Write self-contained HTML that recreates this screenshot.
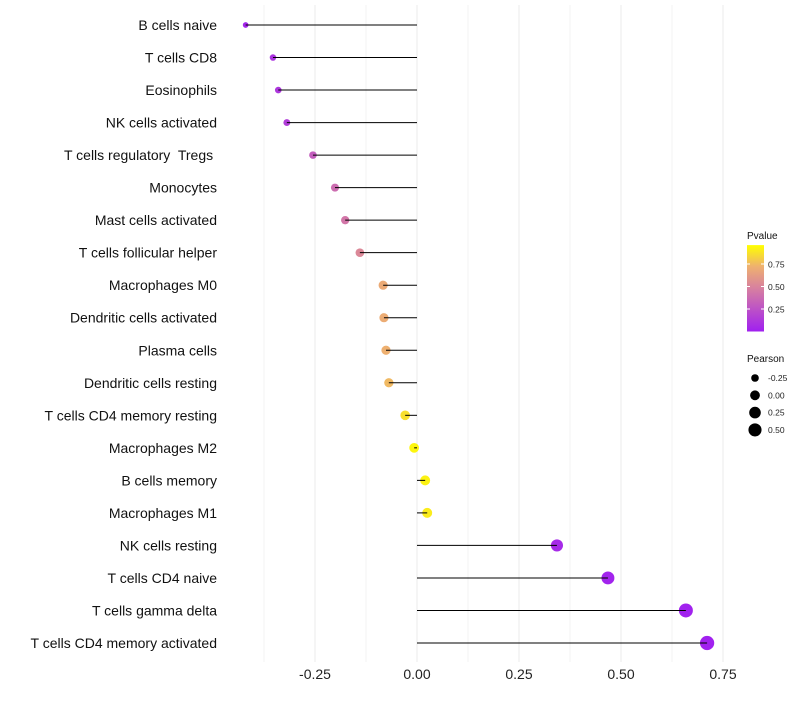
<!DOCTYPE html>
<html><head><meta charset="utf-8"><style>
body{margin:0;background:#fff;font-family:"Liberation Sans",sans-serif}
text{white-space:pre}
</style></head><body>
<svg id="c" width="800" height="700" xmlns="http://www.w3.org/2000/svg"></svg>
<script>
const categories=["B cells naive","T cells CD8","Eosinophils","NK cells activated","T cells regulatory  Tregs ","Monocytes","Mast cells activated","T cells follicular helper","Macrophages M0","Dendritic cells activated","Plasma cells","Dendritic cells resting","T cells CD4 memory resting","Macrophages M2","B cells memory","Macrophages M1","NK cells resting","T cells CD4 naive","T cells gamma delta","T cells CD4 memory activated"];
const pearson=[-0.42,-0.353,-0.34,-0.319,-0.255,-0.201,-0.176,-0.14,-0.083,-0.081,-0.076,-0.069,-0.029,-0.007,0.02,0.025,0.343,0.468,0.659,0.711];
const pvalues=[0.03,0.1,0.12,0.15,0.32,0.4,0.45,0.54,0.72,0.73,0.75,0.78,0.9,0.97,0.96,0.94,0.05,0.02,0.01,0.005];
const xTicks=[-0.25,0,0.25,0.5,0.75];
const colorTicks=[0.25,0.5,0.75];
const sizeTicks=[-0.25,0,0.25,0.5];
const NS="http://www.w3.org/2000/svg";
const svg=document.getElementById('c');
function mk(t,a,p){const e=document.createElementNS(NS,t);for(const k in a)e.setAttribute(k,a[k]);(p||svg).appendChild(e);return e;}
const x=v=>417+v*408;
const y=i=>25+i*(618/19);
const rad=v=>Math.sqrt(Math.max(3.2,24+38*v));
const stops=[[0,[160,32,240]],[0.5,[215,128,160]],[0.75,[238,176,112]],[1,[255,255,0]]];
function col(p){for(let i=1;i<stops.length;i++){if(p<=stops[i][0]){const a=stops[i-1],b=stops[i];const t=(p-a[0])/(b[0]-a[0]);const c=a[1].map((v,k)=>Math.round(v+(b[1][k]-v)*t));return `rgb(${c})`;}}return 'rgb(255,255,0)';}
for(let v=-0.375;v<=0.8;v+=0.125){const g=mk('line',{x1:x(v),x2:x(v),y1:5,y2:662,stroke:'#ebebeb','stroke-width':Math.abs(v*8-Math.round(v*8))<1e-6&&Math.round(v*8)%2===0?1:0.6});

}
xTicks.forEach(v=>{const t=mk('text',{x:x(v),y:679,'text-anchor':'middle','font-size':14,fill:'#222'});t.textContent=v.toFixed(2);

});
categories.forEach((c,i)=>{
const t=mk('text',{x:217,y:y(i)+5,'text-anchor':'end','font-size':14,fill:'#111'});t.textContent=c;


const d=mk('circle',{cx:x(pearson[i]),cy:y(i),r:rad(pearson[i]),fill:col(pvalues[i])});


const l=mk('line',{x1:x(0),x2:x(pearson[i]),y1:y(i),y2:y(i),stroke:'#000','stroke-width':1});


});
const lt=mk('text',{x:747,y:239,'font-size':10,fill:'#111'});lt.textContent='Pvalue';


const defs=mk('defs',{});const lg=mk('linearGradient',{id:'g',x1:0,y1:1,x2:0,y2:0},defs);
stops.forEach(s=>mk('stop',{offset:s[0],'stop-color':`rgb(${s[1]})`},lg));
const cy=p=>331.5-p*90;
const bar=mk('rect',{x:747,y:cy(0.96),width:17,height:cy(0)-cy(0.96),fill:'url(#g)'});


colorTicks.forEach(v=>{const t=mk('text',{x:768,y:cy(v)+3.5,'font-size':8.5,fill:'#222'});t.textContent=v.toFixed(2);


mk('line',{x1:747,x2:750,y1:cy(v),y2:cy(v),stroke:'#fff'});mk('line',{x1:761,x2:764,y1:cy(v),y2:cy(v),stroke:'#fff'});});
const st=mk('text',{x:747,y:362,'font-size':10,fill:'#111'});st.textContent='Pearson';


sizeTicks.forEach((v,i)=>{const yy=378+i*17.3;
const c=mk('circle',{cx:755,cy:yy,r:rad(v),fill:'#000'});


const t=mk('text',{x:768,y:yy+3,'font-size':8.5,fill:'#222'});t.textContent=v.toFixed(2);

});
</script>
</body></html>
